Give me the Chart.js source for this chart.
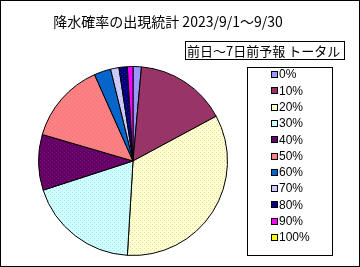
<!DOCTYPE html>
<html>
<head>
<meta charset="utf-8">
<script src="https://cdn.jsdelivr.net/npm/chart.js@4"></script>
<style>
  html, body { margin: 0; padding: 0; background: #fff; }
</style>
</head>
<body>
<canvas id="pieChart" width="360" height="267"></canvas>
<script>
const categories = ['0%', '10%', '20%', '30%', '40%', '50%', '60%', '70%', '80%', '90%', '100%'];
const counts = [3, 33, 71, 40, 20, 29, 6, 3, 3, 2, 0];
const sliceColors = ['#9999FF', '#993366', '#FFFFCC', '#CCFFFF', '#660066', '#FF8080',
                     '#0066CC', '#CCCCFF', '#000080', '#FF00FF', '#FFFF00'];
const titleText = '降水確率の出現統計 2023/9/1～9/30';
const subTitleText = '前日～7日前予報 トータル';

// little dot texture like the old office pie
function dotted(color){
    const c = document.createElement('canvas');
    c.width = 4; c.height = 4;
    const g = c.getContext('2d');
    g.fillStyle = color;
    g.fillRect(0, 0, 4, 4);
    g.fillStyle = 'rgba(140,90,160,0.25)';
    g.fillRect(0, 0, 1, 1);
    g.fillRect(2, 2, 1, 1);
    return g.createPattern(c, 'repeat');
}

const frame = {
    id: 'frame',
    afterDraw(chart){
        const ctx = chart.ctx;
        ctx.save();
        ctx.strokeStyle = '#000';
        ctx.lineWidth = 1;
        ctx.strokeRect(0.5, 0.5, 359, 266);

        ctx.fillStyle = '#000';
        ctx.textBaseline = 'middle';
        ctx.font = '14px "Noto Sans CJK JP"';
        ctx.textAlign = 'center';
        ctx.fillText(titleText, 168, 22);

        // subtitle box
        ctx.strokeRect(185.5, 41.5, 159, 18);
        ctx.textAlign = 'left';
        ctx.font = '13px "Noto Sans CJK JP"';
        ctx.fillText(subTitleText, 187, 51);

        // legend
        ctx.strokeRect(247.5, 67.5, 85, 188);
        ctx.font = '12px "Liberation Sans"';
        const ds = chart.data.datasets[0];
        chart.data.labels.forEach((lab, i) => {
            const y = 74 + i * 16.3;
            ctx.fillStyle = ds.legendColors[i];
            ctx.fillRect(271, Math.round(y) - 3, 7, 7);
            ctx.strokeStyle = '#000';
            ctx.strokeRect(271.5, Math.round(y) - 2.5, 6, 6);
            ctx.fillStyle = '#000';
            ctx.fillText(lab, 279, y + 1);
        });
        ctx.restore();
    }
};

const ctx = document.getElementById('pieChart').getContext('2d');
const pieChart = new Chart(ctx, {
    type: 'pie',
    data: {
        labels: categories,
        datasets: [{
            data: counts,
            backgroundColor: sliceColors.map(dotted),
            legendColors: sliceColors,
            borderColor: '#000',
            borderWidth: 1
        }]
    },
    options: {
        responsive: false,
        animation: false,
        devicePixelRatio: 1,
        layout: {
            padding: { left: 38, right: 132, top: 66, bottom: 11 }
        },
        plugins: {
            legend: { display: false },
            tooltip: { enabled: false }
        }
    },
    plugins: [frame]
});
</script>
</body>
</html>
